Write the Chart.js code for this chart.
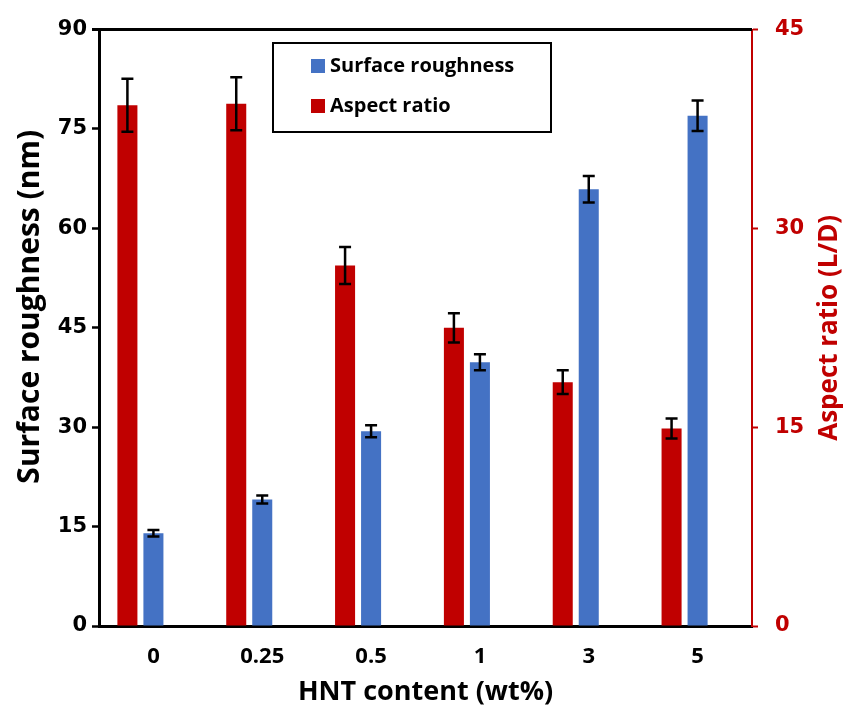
<!DOCTYPE html>
<html>
<head>
<meta charset="utf-8">
<script src="https://cdn.jsdelivr.net/npm/chart.js@4/dist/chart.umd.min.js"></script>
<style>
  html, body { margin: 0; padding: 0; background: #fff; }
  #wrap { width: 845px; height: 713px; }
</style>
</head>
<body>
<div id="wrap"><canvas id="c" width="845" height="713"></canvas></div>
<script>
// HNT loading (wt%)
const categories = ['0', '0.25', '0.5', '1', '3', '5'];

// Surface roughness (nm), left axis
const roughness = [14.0, 19.1, 29.4, 39.8, 65.9, 77.0];
const roughnessErr = [0.5, 0.6, 0.9, 1.2, 2.0, 2.3];

// Aspect ratio (L/D), right axis
const aspectRatio = [39.3, 39.4, 27.2, 22.5, 18.4, 14.9];
const aspectRatioErr = [2.0, 2.0, 1.4, 1.1, 0.9, 0.75];

// Axis tick values
const roughnessTicks = [0, 15, 30, 45, 60, 75, 90];
const aspectTicks = [0, 15, 30, 45];

const RED = '#C00000';
const BLUE = '#4472C4';
const LABEL_FONT = 'Open Sans';
const TICK_FONT = 'DejaVu Sans';
const LEFT_TITLE = 'Surface roughness (nm)';
const RIGHT_TITLE = 'Aspect ratio (L/D)';

// Error bars drawn from the dataset's own scale
const errorBars = {
  id: 'errorBars',
  afterDatasetsDraw(chart) {
    const ctx = chart.ctx;
    chart.data.datasets.forEach((ds, di) => {
      if (!ds.errors) return;
      const meta = chart.getDatasetMeta(di);
      const scale = chart.scales[ds.yAxisID];
      meta.data.forEach((bar, i) => {
        const v = ds.data[i], e = ds.errors[i];
        if (v == null || e == null) return;
        const yTop = scale.getPixelForValue(v + e);
        const yBot = scale.getPixelForValue(v - e);
        const cap = 6;
        ctx.save();
        ctx.strokeStyle = '#000';
        ctx.lineWidth = 2.5;
        ctx.beginPath();
        ctx.moveTo(bar.x, yTop); ctx.lineTo(bar.x, yBot);
        ctx.moveTo(bar.x - cap, yTop); ctx.lineTo(bar.x + cap, yTop);
        ctx.moveTo(bar.x - cap, yBot); ctx.lineTo(bar.x + cap, yBot);
        ctx.stroke();
        ctx.restore();
      });
    });
  }
};

// Vertical axis title, written bottom-to-top
function drawVerticalTitle(ctx, text, x, y, size, color) {
  ctx.save();
  ctx.translate(x, y);
  ctx.rotate(-Math.PI / 2);
  ctx.fillStyle = color;
  ctx.font = 'bold ' + size + 'px ' + LABEL_FONT;
  ctx.textAlign = 'center';
  ctx.textBaseline = 'middle';
  ctx.fillText(text, 0, 0);
  ctx.restore();
}

// Frame line along the top of the plot area, plus both axis titles
const frameAndTitles = {
  id: 'frameAndTitles',
  afterDraw(chart) {
    const { ctx, chartArea } = chart;
    ctx.save();
    ctx.strokeStyle = '#000';
    ctx.lineWidth = 3;
    ctx.beginPath();
    ctx.moveTo(chartArea.left - 7, chartArea.top);
    ctx.lineTo(chartArea.right, chartArea.top);
    ctx.stroke();
    ctx.restore();

    const midY = (chartArea.top + chartArea.bottom) / 2;
    drawVerticalTitle(ctx, LEFT_TITLE, chart.scales.y.left + 30, midY - 21, 30, '#000');
    drawVerticalTitle(ctx, RIGHT_TITLE, chart.scales.y1.right - 15, midY, 26, RED);
  }
};

// Boxed legend inside the plot area
const boxLegend = {
  id: 'boxLegend',
  afterDraw(chart, args, opts) {
    const ctx = chart.ctx;
    const { x, y, w, h, items } = opts;
    ctx.save();
    ctx.fillStyle = '#fff';
    ctx.fillRect(x, y, w, h);
    ctx.strokeStyle = '#000';
    ctx.lineWidth = 2;
    ctx.strokeRect(x, y, w, h);
    ctx.font = 'bold 20px ' + LABEL_FONT;
    ctx.textBaseline = 'middle';
    ctx.textAlign = 'left';
    items.forEach((it, k) => {
      const ds = chart.data.datasets[it];
      const cy = y + 23 + k * 40;
      ctx.fillStyle = ds.backgroundColor;
      ctx.fillRect(x + 38, cy - 7, 14, 14);
      ctx.fillStyle = '#000';
      ctx.fillText(ds.label, x + 57, cy);
    });
    ctx.restore();
  }
};

new Chart(document.getElementById('c'), {
  type: 'bar',
  data: {
    labels: categories,
    datasets: [
      {
        label: 'Aspect ratio',
        data: aspectRatio,
        errors: aspectRatioErr,
        yAxisID: 'y1',
        backgroundColor: RED,
        order: 1
      },
      {
        label: 'Surface roughness',
        data: roughness,
        errors: roughnessErr,
        yAxisID: 'y',
        backgroundColor: BLUE,
        order: 2
      },
      {
        // empty slot that keeps the roughness bar centred on its category
        label: '',
        data: [],
        yAxisID: 'y',
        backgroundColor: 'rgba(0,0,0,0)',
        order: 3
      }
    ]
  },
  options: {
    responsive: false,
    animation: false,
    devicePixelRatio: 1,
    categoryPercentage: 0.717,
    barPercentage: 0.77,
    layout: { padding: { top: 24, left: 0, right: 0, bottom: 0 } },
    plugins: {
      legend: { display: false },
      tooltip: { enabled: false },
      boxLegend: { x: 273, y: 43, w: 278, h: 89, items: [1, 0] }
    },
    scales: {
      x: {
        grid: { display: false, drawTicks: false },
        border: { display: true, color: '#000', width: 3 },
        ticks: {
          color: '#000',
          font: { family: LABEL_FONT, weight: 'bold', size: 22 },
          padding: 18,
          maxRotation: 0
        },
        title: {
          display: true,
          text: 'HNT content (wt%)',
          color: '#000',
          font: { family: LABEL_FONT, weight: 'bold', size: 27 },
          padding: { top: 4, bottom: 4 }
        },
        afterFit(s) { s.height = 87; }
      },
      y: {
        position: 'left',
        min: 0,
        max: 90,
        afterBuildTicks(s) { s.ticks = roughnessTicks.map(v => ({ value: v })); },
        grid: {
          drawOnChartArea: false,
          drawTicks: true,
          tickLength: 7,
          tickWidth: 2.5,
          tickColor: '#000'
        },
        border: { display: true, color: '#000', width: 3 },
        ticks: {
          color: '#000',
          font: { family: TICK_FONT, weight: 'bold', size: 21 },
          padding: 5
        },
        afterFit(s) { s.width = 99; }
      },
      y1: {
        position: 'right',
        min: 0,
        max: 45,
        afterBuildTicks(s) { s.ticks = aspectTicks.map(v => ({ value: v })); },
        grid: {
          drawOnChartArea: false,
          drawTicks: true,
          tickLength: 6,
          tickWidth: 2,
          tickColor: RED
        },
        border: { display: true, color: RED, width: 2 },
        ticks: {
          color: RED,
          font: { family: TICK_FONT, weight: 'bold', size: 21 },
          padding: 17
        },
        afterFit(s) { s.width = 93; }
      }
    }
  },
  plugins: [errorBars, frameAndTitles, boxLegend]
});
</script>
</body>
</html>
